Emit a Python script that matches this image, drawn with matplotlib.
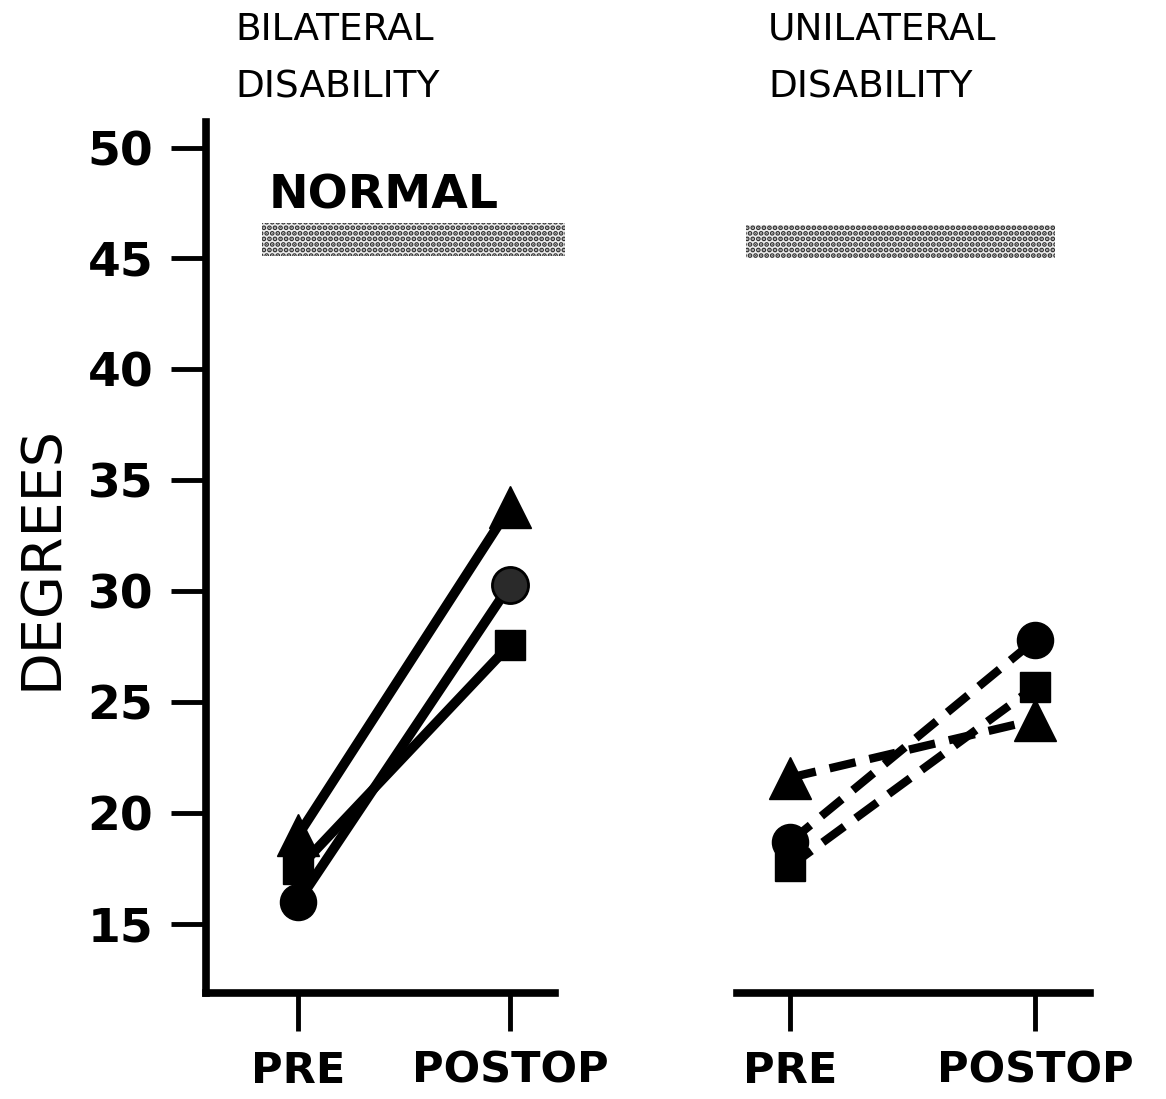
import numpy as np
import matplotlib.pyplot as plt

# data
stages = ['PRE', 'POSTOP']
bil_triangle = [19.0, 33.8]
bil_circle = [16.0, 30.3]
bil_square = [17.5, 27.6]
uni_triangle = [21.6, 24.2]
uni_circle = [18.7, 27.8]
uni_square = [17.6, 25.7]
normal_low, normal_high = 45.1, 46.6
yticks = [15, 20, 25, 30, 35, 40, 45, 50]

plt.rcParams['hatch.linewidth'] = 2.5

fig = plt.figure(figsize=(11.66, 10.99), dpi=100)
ylim = (11.9, 51.15)
bottom, height = 0.0965, 0.7925
axL = fig.add_axes([0.1767, bottom, 0.2993, height])
axR = fig.add_axes([0.632, bottom, 0.3027, height])

x = np.arange(len(stages))

for ax in (axL, axR):
    ax.set_ylim(*ylim)
    ax.spines['top'].set_visible(False)
    ax.spines['right'].set_visible(False)
    ax.spines['bottom'].set_linewidth(5.5)
    ax.set_xticks(x)
    ax.set_xticklabels(stages, fontsize=31, fontweight='bold')
    ax.tick_params(axis='x', direction='out', length=27, width=3.5, pad=14)

axL.set_xlim(-0.434, 1.212)
axR.set_xlim(-0.216, 1.224)

axL.spines['left'].set_linewidth(5.5)
axL.set_yticks(yticks)
axL.set_yticklabels([str(t) for t in yticks], fontsize=34, fontweight='bold')
axL.tick_params(axis='y', direction='out', length=25, width=3.5, pad=13)
axL.set_ylabel('DEGREES', fontsize=40, labelpad=14)

axR.spines['left'].set_visible(False)
axR.set_yticks([])

# normal bands (halftone look)
band = dict(facecolor='#ececec', edgecolor='#303030', hatch='...', linewidth=0, clip_on=False)
axL.fill_between([-0.17, 1.26], normal_low, normal_high, **band)
axR.fill_between([-0.18, 1.08], normal_low - 0.1, normal_high - 0.1, **band)
axL.text(-0.14, 47.8, 'NORMAL', fontsize=34, fontweight='bold', va='center')

# bilateral: solid lines
lw = 7
axL.plot(x, bil_square, 'k-', lw=lw, marker='s', ms=22, solid_capstyle='round')
axL.plot(x, bil_circle, 'k-', lw=lw, solid_capstyle='round')
axL.plot(x[:1], bil_circle[:1], 'ko', ms=26)
axL.plot(x[1:], bil_circle[1:], 'o', ms=26, mfc='#2a2a2a', mec='k', mew=2)
axL.plot(x, bil_triangle, 'k-', lw=lw, marker='^', ms=30, solid_capstyle='round')

# unilateral: dashed lines
dash = (0, (3.2, 1.7))
axR.plot(x, uni_triangle, 'k', ls=dash, lw=6, marker='^', ms=30)
axR.plot(x, uni_square, 'k', ls=dash, lw=6, marker='s', ms=22)
axR.plot(x, uni_circle, 'k', ls=dash, lw=6, marker='o', ms=26)

title = dict(fontsize=27, va='center', ha='left')
fig.text(235 / 1166, 1 - 30 / 1099, 'BILATERAL', **title)
fig.text(235 / 1166, 1 - 87 / 1099, 'DISABILITY', **title)
fig.text(768 / 1166, 1 - 30 / 1099, 'UNILATERAL', **title)
fig.text(768 / 1166, 1 - 87 / 1099, 'DISABILITY', **title)

fig.savefig('out.png', dpi=100)
